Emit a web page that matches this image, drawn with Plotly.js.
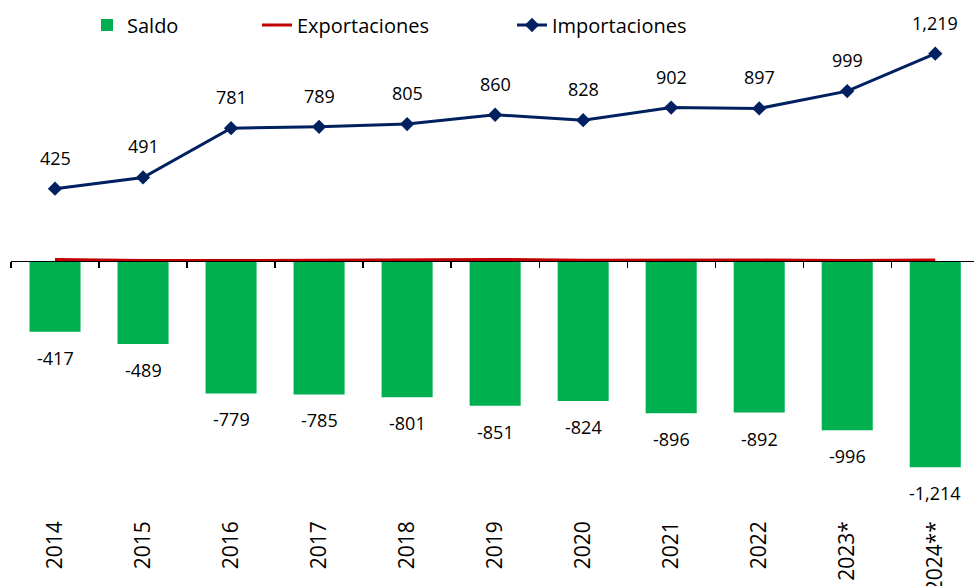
<!DOCTYPE html>
<html><head><meta charset="utf-8">
<script src="https://cdn.plot.ly/plotly-3.0.1.min.js"></script>
<style>html,body{margin:0;padding:0;background:#fff}#chart{width:974px;height:586px}</style>
</head><body><div id="chart"></div>
<script>
const years = ["2014","2015","2016","2017","2018","2019","2020","2021","2022","2023*","2024**"];
const saldo = [-417,-489,-779,-785,-801,-851,-824,-896,-892,-996,-1214];
const exportaciones = [8,2,2,4,4,9,4,6,5,3,5];
const importaciones = [425,491,781,789,805,860,828,902,897,999,1219];

const txtFamily = "Liberation Sans Narrow, Open Sans, sans-serif";
const labelFont = {family:txtFamily, size:18, color:"#000"};
function fmt(v){ return v.toLocaleString("en-US"); }

const traces = [
  {type:"bar", name:"Saldo", x:years, y:saldo, marker:{color:"#00B050"}, width:0.58, legend:"legend"},
  {type:"scatter", mode:"lines", name:"Exportaciones", x:years, y:exportaciones, line:{color:"#C00000", width:3}, legend:"legend2"},
  {type:"scatter", mode:"lines+markers", name:"Importaciones", x:years, y:importaciones,
   line:{color:"#002060", width:3}, marker:{symbol:"diamond", size:11, color:"#002060"}, legend:"legend3"},
  {type:"scatter", mode:"lines", x:years, y:years.map(()=>0), xaxis:"x2", showlegend:false, line:{width:0}, hoverinfo:"skip"}
];

const annotations = [];
years.forEach((c,i)=>{
  annotations.push({x:i, y:importaciones[i], text:fmt(importaciones[i]), showarrow:false, yshift:31, font:labelFont});
  annotations.push({x:i, y:saldo[i], text:fmt(saldo[i]), showarrow:false, yshift:-26, font:labelFont});
});

const yr = [-1453, 1476];
const zeroPos = (0 - yr[0])/(yr[1]-yr[0]);
const legFont = {family:txtFamily, size:20, color:"#000"};
function leg(px){ return {orientation:"h", xref:"container", yref:"container", x:px/974, y:1-25/586, xanchor:"left", yanchor:"middle", font:legFont, bgcolor:"rgba(0,0,0,0)"}; }

const layout = {
  width:974, height:586,
  margin:{l:11, r:0, t:10, b:78, autoexpand:false},
  paper_bgcolor:"#fff", plot_bgcolor:"#fff",
  showlegend:true,
  legend:leg(87), legend2:leg(257), legend3:leg(512),
  xaxis:{type:"category", range:[-0.5,10.44], showline:false, ticks:"", tickangle:-90, ticklabelstandoff:8,
         tickfont:{family:"Open Sans", size:21, color:"#000"}, showgrid:false, zeroline:false},
  xaxis2:{type:"category", range:[-0.5,10.44], overlaying:"x", anchor:"free", position:zeroPos,
          showline:true, linecolor:"#000", linewidth:1.3, ticks:"outside", tickson:"boundaries", ticklen:6, tickcolor:"#000", tickwidth:1.3,
          showticklabels:false, showgrid:false, zeroline:false},
  yaxis:{range:yr, visible:false, showgrid:false, zeroline:false},
  annotations:annotations
};
Plotly.newPlot("chart", traces, layout, {displayModeBar:false, staticPlot:true});
</script></body></html>
